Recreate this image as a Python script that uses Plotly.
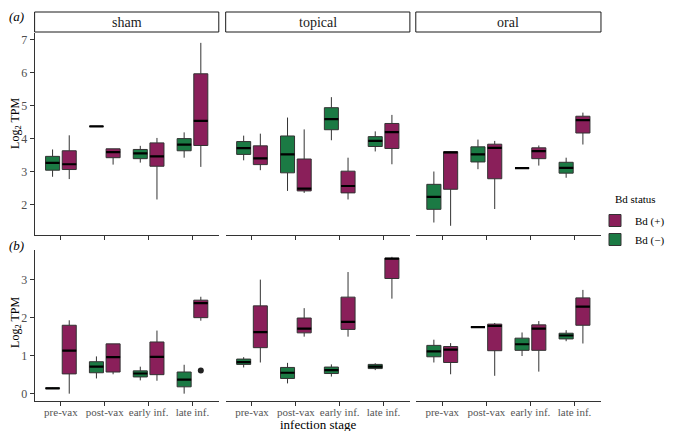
import plotly.graph_objects as go

# categories
STAGES = ["pre-vax", "post-vax", "early inf.", "late inf."]
TREATMENTS = ["sham", "topical", "oral"]

# box stats per stage: [lower whisker, q1, median, q3, upper whisker]
# panel (a)
A_SHAM_NEG = [[2.84, 3.04, 3.26, 3.46, 3.67], [4.37, 4.37, 4.37, 4.37, 4.37],
              [3.27, 3.39, 3.55, 3.67, 3.78], [3.42, 3.63, 3.82, 4.00, 4.19]]
A_SHAM_POS = [[2.77, 3.06, 3.22, 3.63, 4.10], [3.21, 3.42, 3.59, 3.69, 3.69],
              [2.15, 3.16, 3.46, 3.87, 4.02], [3.14, 3.79, 4.54, 5.97, 6.91]]
A_TOP_NEG = [[3.34, 3.52, 3.71, 3.91, 4.09], [2.41, 2.96, 3.52, 4.08, 4.64],
             [3.95, 4.27, 4.59, 4.94, 5.26], [3.61, 3.76, 3.93, 4.06, 4.22]]
A_TOP_POS = [[3.04, 3.21, 3.40, 3.78, 4.15], [2.35, 2.41, 2.48, 3.38, 4.28],
             [2.15, 2.35, 2.56, 3.01, 3.42], [3.22, 3.70, 4.20, 4.46, 4.72]]
A_ORAL_NEG = [[1.45, 1.85, 2.23, 2.61, 3.00], [3.07, 3.29, 3.52, 3.75, 3.97],
              [3.10, 3.10, 3.10, 3.10, 3.10], [2.81, 2.95, 3.11, 3.28, 3.42]]
A_ORAL_POS = [[1.35, 2.46, 3.58, 3.60, 3.61], [1.86, 2.78, 3.72, 3.83, 3.93],
              [3.18, 3.39, 3.62, 3.72, 3.79], [3.82, 4.17, 4.56, 4.68, 4.79]]

# panel (b)
B_SHAM_NEG = [[0.13, 0.14, 0.14, 0.15, 0.16], [0.40, 0.55, 0.71, 0.84, 0.98],
              [0.35, 0.44, 0.53, 0.60, 0.71], [0.00, 0.18, 0.37, 0.57, 0.76]]
B_SHAM_POS = [[0.00, 0.52, 1.13, 1.80, 1.93], [0.51, 0.57, 0.96, 1.31, 1.31],
              [0.34, 0.50, 0.97, 1.36, 1.66], [1.92, 2.00, 2.38, 2.46, 2.55]]
B_TOP_NEG = [[0.69, 0.77, 0.83, 0.91, 0.96], [0.27, 0.40, 0.55, 0.69, 0.81],
             [0.45, 0.53, 0.62, 0.70, 0.77], [0.62, 0.66, 0.71, 0.77, 0.80]]
B_TOP_POS = [[0.82, 1.21, 1.62, 2.31, 3.00], [1.50, 1.60, 1.71, 1.99, 2.25],
             [1.50, 1.69, 1.89, 2.54, 3.20], [2.50, 3.03, 3.55, 3.57, 3.60]]
B_ORAL_NEG = [[0.82, 0.97, 1.11, 1.27, 1.42], [1.75, 1.75, 1.75, 1.75, 1.75],
              [0.99, 1.14, 1.30, 1.46, 1.61], [1.38, 1.44, 1.53, 1.59, 1.67]]
B_ORAL_POS = [[0.51, 0.82, 1.16, 1.24, 1.33], [0.47, 1.13, 1.78, 1.83, 1.86],
              [0.58, 1.14, 1.71, 1.81, 1.91], [1.32, 1.80, 2.29, 2.52, 2.73]]

# outlier in (b) sham, Bd (+)
B_SHAM_POS_OUTLIER_STAGE = "late inf."
B_SHAM_POS_OUTLIER = 0.61

Y_TICKS_A = [2, 3, 4, 5, 6, 7]
Y_TICKS_B = [0, 1, 2, 3]

ROWS = [
    [(A_SHAM_NEG, A_SHAM_POS), (A_TOP_NEG, A_TOP_POS), (A_ORAL_NEG, A_ORAL_POS)],
    [(B_SHAM_NEG, B_SHAM_POS), (B_TOP_NEG, B_TOP_POS), (B_ORAL_NEG, B_ORAL_POS)],
]

# the page body has an 8px margin, so the figure is sized to fit the window
PAGE_OFF = 8
W, H = 675 - PAGE_OFF, 431 - PAGE_OFF
FONT = "Liberation Serif, Times New Roman, DejaVu Serif, serif"
NEG_COLOR = "#1b7a44"
POS_COLOR = "#8a1f5a"
EDGE = "#333333"
OFFSET = 0.19
BOX_W = 0.32

# panel positions in window pixels
COL_PX = [(35, 222), (229, 416), (422, 610)]
ROW_PX = [(33, 235), (250, 400.5)]
Y_RANGES = [[1.07, 7.21], [-0.18, 3.78]]


def fx(p):
    return (p - PAGE_OFF) / W


def fy(p):
    return 1 - (p - PAGE_OFF) / H


def label(text, x, y, size, **kw):
    return dict(text=text, xref="paper", yref="paper", x=fx(x), y=fy(y),
                xanchor=kw.pop("xanchor", "center"), yanchor="middle",
                showarrow=False,
                font=dict(family=FONT, size=size, color=kw.pop("color", "black")),
                **kw)


fig = go.Figure()

for r, row in enumerate(ROWS):
    for c, (neg, pos) in enumerate(row):
        idx = r * 3 + c + 1
        xa = "x" if idx == 1 else f"x{idx}"
        ya = "y" if idx == 1 else f"y{idx}"
        for stats, sign, color, name, rank in [
            (neg, -1, NEG_COLOR, "Bd (\u2212)\u00a0\u00a0", 2),
            (pos, 1, POS_COLOR, "Bd (+)\u00a0\u00a0", 1),
        ]:
            xs = [i + sign * OFFSET for i in range(len(STAGES))]
            lo, q1, med, q3, hi = [list(v) for v in zip(*stats)]
            fig.add_trace(go.Box(
                x=xs, q1=q1, median=med, q3=q3, lowerfence=lo, upperfence=hi,
                width=BOX_W, fillcolor=color, line=dict(color=EDGE, width=1),
                whiskerwidth=0, boxpoints=False, hoverinfo="skip",
                xaxis=xa, yaxis=ya, name=name,
                legendrank=rank, showlegend=(idx == 1),
            ))
            # thicker median line, like ggplot
            fig.add_trace(go.Box(
                x=xs, q1=med, median=med, q3=med, lowerfence=med, upperfence=med,
                width=BOX_W, fillcolor="rgba(0,0,0,0)",
                line=dict(color="black", width=2.2),
                whiskerwidth=0, boxpoints=False, hoverinfo="skip",
                xaxis=xa, yaxis=ya, showlegend=False,
            ))

        x0, x1 = COL_PX[c]
        y0, y1 = ROW_PX[r]
        fig.update_layout({
            f"xaxis{'' if idx == 1 else idx}": dict(
                domain=[fx(x0), fx(x1)], anchor=ya, range=[-0.6, 3.6],
                tickvals=list(range(len(STAGES))), ticktext=STAGES,
                showticklabels=(r == 1), ticks="outside", ticklen=4,
                tickcolor=EDGE, showline=True, linecolor=EDGE, linewidth=1,
                showgrid=False, zeroline=False, tickangle=0, automargin=False,
                ticklabelstandoff=-3,
                tickfont=dict(family=FONT, size=11, color="#555555"),
            ),
            f"yaxis{'' if idx == 1 else idx}": dict(
                domain=[fy(y1), fy(y0)], anchor=xa, range=Y_RANGES[r],
                tickvals=Y_TICKS_A if r == 0 else Y_TICKS_B,
                showticklabels=(c == 0), ticks="outside" if c == 0 else "",
                ticklen=4, tickcolor=EDGE, showline=(c == 0), linecolor=EDGE,
                linewidth=1, showgrid=False, zeroline=False, automargin=False,
                tickfont=dict(family=FONT, size=12, color="#4d4d4d"),
            ),
        })

fig.add_trace(go.Scatter(
    x=[STAGES.index(B_SHAM_POS_OUTLIER_STAGE) + OFFSET], y=[B_SHAM_POS_OUTLIER],
    mode="markers", marker=dict(size=6, color="#222222"),
    xaxis="x4", yaxis="y4", showlegend=False, hoverinfo="skip",
))

shapes = []
annotations = []
for c, name in enumerate(TREATMENTS):
    x0, x1 = COL_PX[c]
    shapes.append(dict(type="rect", xref="paper", yref="paper", layer="below",
                       x0=fx(x0), x1=fx(x1), y0=fy(32), y1=fy(12),
                       line=dict(color="#1a1a1a", width=1), fillcolor="white"))
    annotations.append(label(name, (x0 + x1) / 2, 22, 14, color="#1a1a1a"))

annotations += [
    label("Log<sub>2</sub> TPM", 16, 123, 12, textangle=-90),
    label("Log<sub>2</sub> TPM", 16, 322, 12, textangle=-90),
    label("<i>(a)</i>", 17, 16, 13),
    label("<i>(b)</i>", 17, 245, 13),
    label("infection stage", 323, 424, 13),
    label("Bd status", 622, 199, 11, xanchor="left"),
]

fig.update_layout(
    width=W, height=H,
    margin=dict(l=0, r=0, t=0, b=0),
    paper_bgcolor="white", plot_bgcolor="white",
    font=dict(family=FONT, size=12, color="black"),
    shapes=shapes, annotations=annotations,
    legend=dict(
        x=fx(604), y=fy(206), xanchor="left", yanchor="top",
        font=dict(family=FONT, size=11), bgcolor="rgba(0,0,0,0)",
        tracegroupgap=0, itemwidth=30,
    ),
)

fig.write_html("out.html")
